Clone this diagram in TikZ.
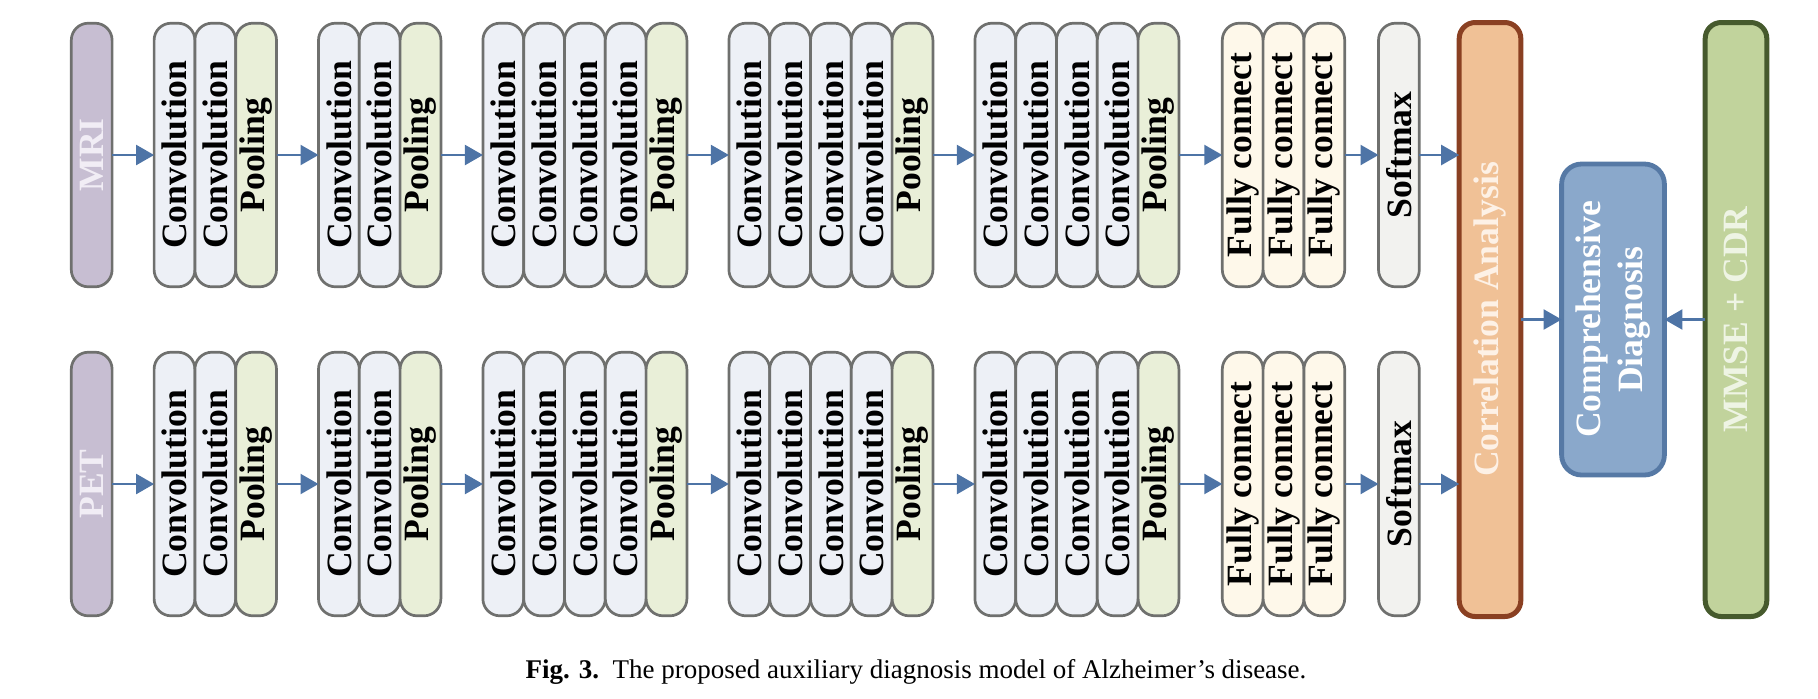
\documentclass[tikz,border=0pt]{standalone}
\usepackage{fontspec}
\setmainfont{Liberation Serif}
\usepackage{graphicx}
\usepackage{tikz}
\usetikzlibrary{positioning,arrows.meta}
\usepackage{xcolor}

\definecolor{boxgray}{HTML}{6F706E}
\definecolor{convfill}{HTML}{EDF0F6}
\definecolor{poolfill}{HTML}{E9EFD8}
\definecolor{fcfill}{HTML}{FEF8EA}
\definecolor{softfill}{HTML}{F2F2EF}
\definecolor{inputfill}{HTML}{C7BED2}
\definecolor{inputtext}{HTML}{F1EDF5}
\definecolor{corrfill}{HTML}{F0C196}
\definecolor{corrdraw}{HTML}{8A4022}
\definecolor{corrtext}{HTML}{FDF1E6}
\definecolor{compfill}{HTML}{8AA8CB}
\definecolor{compdraw}{HTML}{5679A5}
\definecolor{mmsefill}{HTML}{C1D39C}
\definecolor{mmsedraw}{HTML}{465A2D}
\definecolor{mmsetext}{HTML}{EEF4E4}
\definecolor{arrowblue}{HTML}{4E74A6}

\newcommand{\boxfont}{\fontsize{17.8pt}{21pt}\selectfont\bfseries}
\newcommand{\rottext}[1]{\rotatebox{90}{#1}}

\begin{document}
\begin{tikzpicture}[x=0.5pt,y=-0.5pt,
    layer/.style={draw=boxgray,line width=1.35pt,rounded corners=8.5pt,
      minimum width=20.4pt,minimum height=131.8pt,inner sep=0pt,outer sep=0pt,
      font=\boxfont},
    conv/.style={layer,fill=convfill},
    pool/.style={layer,fill=poolfill},
    fc/.style={layer,fill=fcfill},
    soft/.style={layer,fill=softfill},
    input/.style={layer,fill=inputfill,text=inputtext},
    tall/.style={line width=2.5pt,rounded corners=8pt,minimum width=30.8pt,
      minimum height=297pt,inner sep=0pt,outer sep=0pt,font=\boxfont},
    link/.style={-{Triangle[length=9pt,width=10pt]},line width=1.15pt,draw=arrowblue}]
  \useasboundingbox (0,0) rectangle (1818,698);

  % Drawing the fusion part
  \node[tall,draw=corrdraw,fill=corrfill,text=corrtext] (corr) at (1490,319.5)
    {\rottext{Correlation Analysis}};
  \node[draw=compdraw,fill=compfill,text=white,line width=2.4pt,rounded corners=10pt,
    minimum width=51.4pt,minimum height=155.5pt,inner sep=0pt,outer sep=0pt,
    font=\boxfont] (comp) at (1613,319.5)
    {\rottext{\begin{tabular}{@{}c@{}}Comprehensive\\Diagnosis\end{tabular}}};
  \node[tall,draw=mmsedraw,fill=mmsefill,text=mmsetext] (mmse) at (1736,319.5)
    {\rottext{MMSE + CDR}};
  \draw[link] (corr) -- (comp);
  \draw[link] (mmse) -- (comp);

  % Drawing the two branches
  \foreach \r/\lbl/\yc in {m/MRI/155,p/PET/484}{
    \node[input] (\r-in) at (91.7,\yc) {\rottext{\lbl}};
    % block 1
    \node[conv,right=21pt of \r-in] (\r-a1) {\rottext{Convolution}};
    \node[conv,right=0pt of \r-a1] (\r-a2) {\rottext{Convolution}};
    \node[pool,right=0pt of \r-a2] (\r-a3) {\rottext{Pooling}};
    % block 2
    \node[conv,right=21pt of \r-a3] (\r-b1) {\rottext{Convolution}};
    \node[conv,right=0pt of \r-b1] (\r-b2) {\rottext{Convolution}};
    \node[pool,right=0pt of \r-b2] (\r-b3) {\rottext{Pooling}};
    % block 3
    \node[conv,right=21pt of \r-b3] (\r-c1) {\rottext{Convolution}};
    \node[conv,right=0pt of \r-c1] (\r-c2) {\rottext{Convolution}};
    \node[conv,right=0pt of \r-c2] (\r-c3) {\rottext{Convolution}};
    \node[conv,right=0pt of \r-c3] (\r-c4) {\rottext{Convolution}};
    \node[pool,right=0pt of \r-c4] (\r-c5) {\rottext{Pooling}};
    % block 4
    \node[conv,right=21pt of \r-c5] (\r-d1) {\rottext{Convolution}};
    \node[conv,right=0pt of \r-d1] (\r-d2) {\rottext{Convolution}};
    \node[conv,right=0pt of \r-d2] (\r-d3) {\rottext{Convolution}};
    \node[conv,right=0pt of \r-d3] (\r-d4) {\rottext{Convolution}};
    \node[pool,right=0pt of \r-d4] (\r-d5) {\rottext{Pooling}};
    % block 5
    \node[conv,right=21pt of \r-d5] (\r-e1) {\rottext{Convolution}};
    \node[conv,right=0pt of \r-e1] (\r-e2) {\rottext{Convolution}};
    \node[conv,right=0pt of \r-e2] (\r-e3) {\rottext{Convolution}};
    \node[conv,right=0pt of \r-e3] (\r-e4) {\rottext{Convolution}};
    \node[pool,right=0pt of \r-e4] (\r-e5) {\rottext{Pooling}};
    % fully connected and softmax
    \node[fc,right=21.7pt of \r-e5] (\r-f1) {\rottext{Fully connect}};
    \node[fc,right=0pt of \r-f1] (\r-f2) {\rottext{Fully connect}};
    \node[fc,right=0pt of \r-f2] (\r-f3) {\rottext{Fully connect}};
    \node[soft,right=16.9pt of \r-f3] (\r-sm) {\rottext{Softmax}};

    % Drawing the arrows
    \draw[link] (\r-in) -- (\r-a1);
    \draw[link] (\r-a3) -- (\r-b1);
    \draw[link] (\r-b3) -- (\r-c1);
    \draw[link] (\r-c5) -- (\r-d1);
    \draw[link] (\r-d5) -- (\r-e1);
    \draw[link] (\r-e5) -- (\r-f1);
    \draw[link] (\r-f3) -- (\r-sm);
    \draw[link] (\r-sm.east) -- (\r-sm.east -| corr.west);
  }

  % Caption
  \node[anchor=base,font=\fontsize{13.5pt}{16pt}\selectfont] (caption) at (916,678)
    {\textbf{Fig. 3.}\hspace{0.5em}The proposed auxiliary diagnosis model of Alzheimer's disease.};
\end{tikzpicture}
\end{document}
